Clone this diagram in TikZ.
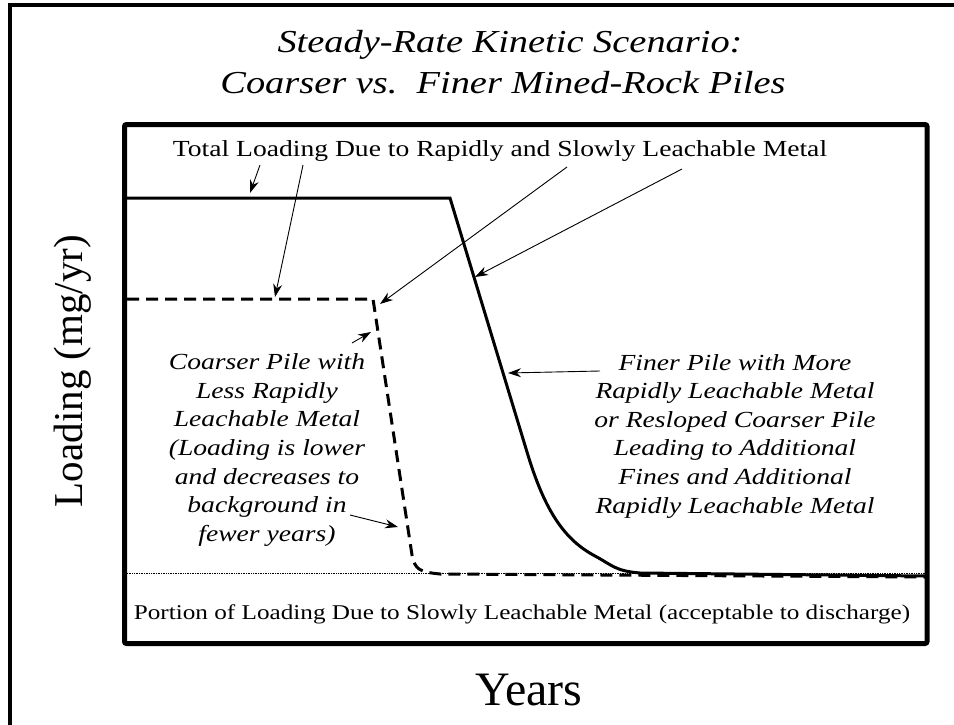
\documentclass[tikz,border=0pt]{standalone}
\usepackage{fontspec}
\setmainfont{Liberation Serif}[FakeStretch=1.2]
\newfontfamily\plainfont{Liberation Serif}
\usetikzlibrary{arrows.meta}

\tikzset{
	pointer/.style={-{Stealth[length=13pt,width=9pt]}, line width=0.9pt},
	curve/.style={line width=3pt},
	lbl/.style={inner sep=0pt, anchor=base},
	note/.style={inner sep=0pt, align=center, font=\fontsize{23}{28.6}\selectfont\itshape},
}

\begin{document}
\begin{tikzpicture}[x=1pt,y=-1pt]
	\useasboundingbox (0,0) rectangle (954,725);

	% page frame and plot box
	\draw[line width=4pt] (10,725) -- (10,5.5) -- (954,5.5);
	\draw[line width=5pt, rounded corners=2pt] (124.5,124.5) rectangle (927,643.5);

	% titles
	\node[lbl, font=\fontsize{32}{40}\selectfont\itshape] (title1) at (510,53) {Steady-Rate Kinetic Scenario:};
	\node[lbl, font=\fontsize{32}{40}\selectfont\itshape] (title2) at (503,93) {Coarser vs.\ \ Finer Mined-Rock Piles};

	% axis labels
	\node[lbl, rotate=90, font=\plainfont\fontsize{41}{45}\selectfont] (loading) at (82,371) {Loading (mg/yr)};
	\node[lbl, font=\plainfont\fontsize{48}{50}\selectfont] (years) at (529,705) {Years};

	% background level
	\draw[densely dotted, line width=0.7pt] (127,573) -- (925,573);

	% loading curves
	\draw[curve] (127,198) -- (450,198) -- (527,452)
		.. controls (545,512) and (565,540) .. (595,556)
		.. controls (612,565) and (615,571) .. (640,573) -- (925,576);
	\draw[curve, dash pattern=on 12pt off 7pt] (127,299) -- (373,299) -- (412,555)
		.. controls (415,570) and (420,572) .. (440,574) -- (925,577);

	% labels
	\node[lbl, font=\fontsize{23}{28}\selectfont] (total) at (500,157) {Total Loading Due to Rapidly and Slowly Leachable Metal};
	\node[lbl, font=\fontsize{21}{25}\selectfont] (portion) at (522,619) {Portion of Loading Due to Slowly Leachable Metal (acceptable to discharge)};
	\node[note] (coarser) at (267,450) {Coarser Pile with\\Less Rapidly\\Leachable Metal\\(Loading is lower\\and decreases to\\background in\\fewer years)};
	\node[note] (finer) at (735,436) {Finer Pile with More\\Rapidly Leachable Metal\\or Resloped Coarser Pile\\Leading to Additional\\Fines and Additional\\Rapidly Leachable Metal};

	% arrow ends
	\coordinate (totA) at (260,165);
	\coordinate (totB) at (303,165);
	\coordinate (slowA) at (567,167);
	\coordinate (slowB) at (682,169);
	\coordinate (finerTail) at (600,371);
	\coordinate (coarseA) at (352,343);
	\coordinate (coarseB) at (350,515);
	\coordinate (solidTop) at (250,193);
	\coordinate (dashTop) at (275,297);
	\coordinate (dashCorner) at (380,304);
	\coordinate (solidFall) at (475,277);
	\coordinate (finerTip) at (508,373);
	\coordinate (dashFallA) at (371,332);
	\coordinate (dashFallB) at (398,527);

	\draw[pointer] (totA) -- (solidTop);
	\draw[pointer] (totB) -- (dashTop);
	\draw[pointer] (slowA) -- (dashCorner);
	\draw[pointer] (slowB) -- (solidFall);
	\draw[pointer] (finerTail) -- (finerTip);
	\draw[pointer] (coarseA) -- (dashFallA);
	\draw[pointer] (coarseB) -- (dashFallB);

\end{tikzpicture}
\end{document}
